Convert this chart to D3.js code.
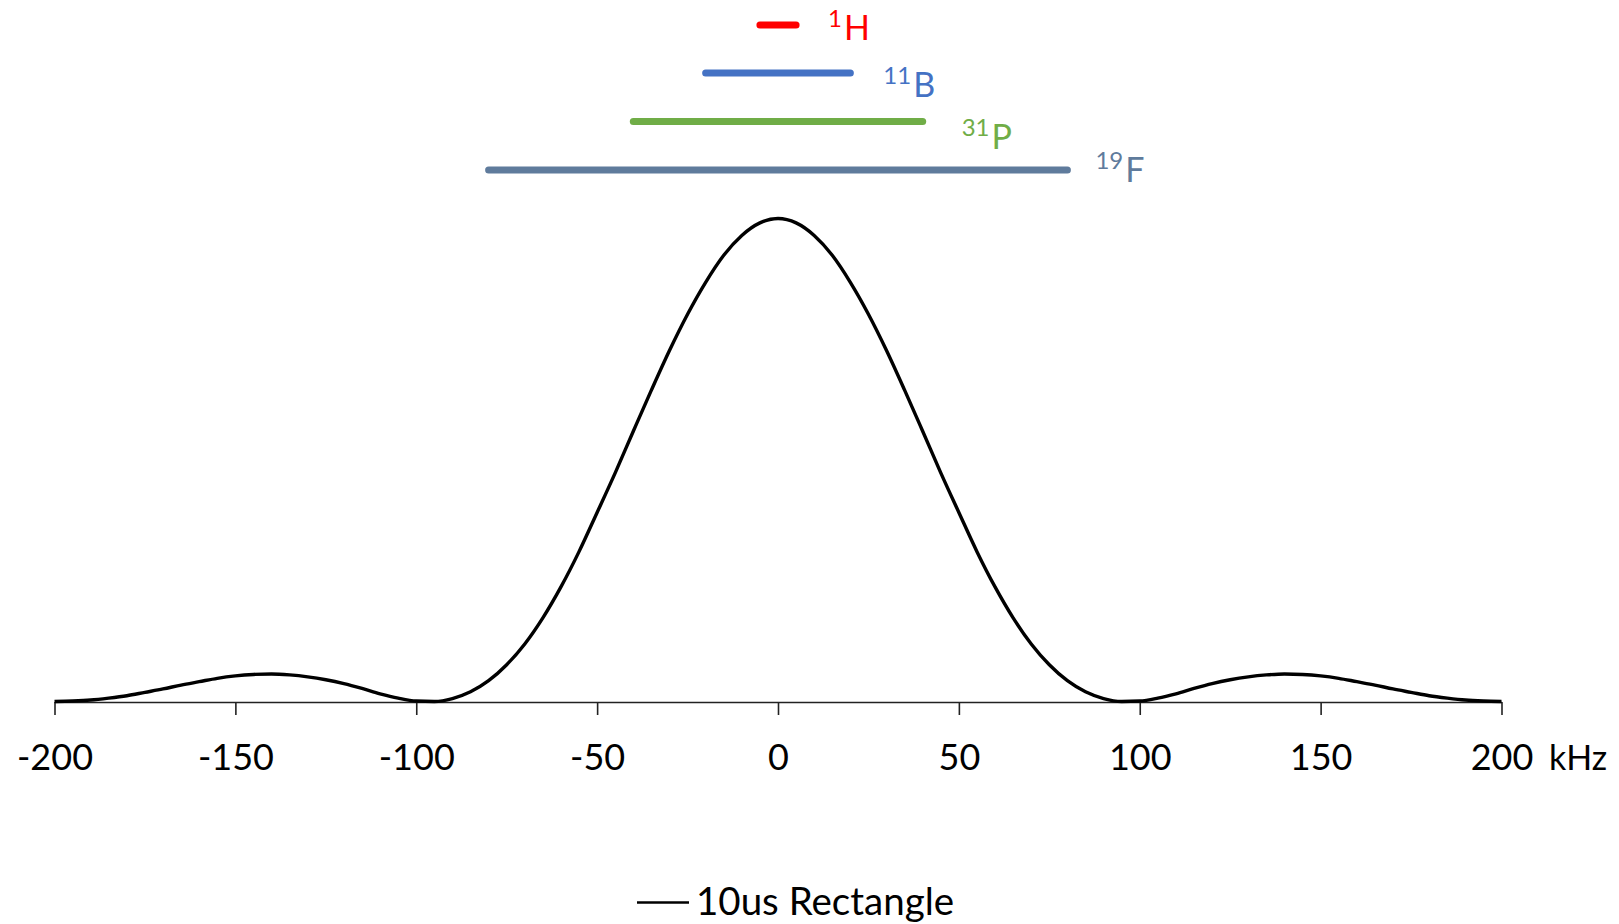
<!DOCTYPE html>
<html>
<head>
<meta charset="utf-8">
<script src="https://cdn.jsdelivr.net/npm/d3@7"></script>
<style>
  html, body { margin: 0; padding: 0; background: #fff; }
  svg { display: block; }
  text { font-family: Lato, "Open Sans", sans-serif; }
</style>
</head>
<body>
<svg id="chart" width="1619" height="924"></svg>
<script>
// ---- data ----
const freqKHz = [-200,-195,-190,-185,-180,-175,-170,-165,-160,-155,-150,-145,-140,-135,-130,-125,-120,-115,-110,-105,-100,-95,-90,-85,-80,-75,-70,-65,-60,-55,-50,-45,-40,-35,-30,-25,-20,-15,-10,-5,0,
  5,10,15,20,25,30,35,40,45,50,55,60,65,70,75,80,85,90,95,100,105,110,115,120,125,130,135,140,145,150,155,160,165,170,175,180,185,190,195,200];
// one half of the symmetric profile, from 0 kHz outwards
const half = [1.000,0.991,0.965,0.924,0.868,0.802,0.727,0.645,0.560,0.474,0.392,0.311,0.238,0.174,0.120,0.077,0.044,0.021,0.007,0.001,0.002,
  0.008,0.017,0.028,0.038,0.046,0.052,0.056,0.058,0.057,0.054,0.049,0.042,0.035,0.027,0.020,0.013,0.008,0.004,0.002,0.001];
const intensity = half.slice(1).reverse().concat(half); // 10us Rectangle excitation profile

const tickValues = [-200,-150,-100,-50,0,50,100,150,200];
const unitLabel = "kHz";
const seriesName = "10us Rectangle";

const nuclei   = ["1H", "11B", "31P", "19F"];
const massNum  = ["1", "11", "31", "19"];
const element  = ["H", "B", "P", "F"];
const bandLow  = [-5, -20, -40, -80];
const bandHigh = [5, 20, 40, 80];
const nucleusColors = ["#FF0000", "#4472C4", "#70AD47", "#5F7B9C"];

// ---- layout ----
const svg = d3.select("#chart");
const x = d3.scaleLinear().domain([-200, 200]).range([54.5, 1501.5]);
const y = d3.scaleLinear().domain([0, 1]).range([702, 218.5]);

const barY   = [25, 73, 121.5, 170];
const labDx  = [32, 33, 39, 28];
const labBase= [40, 96.5, 149, 181.5];

// axis
const axis = d3.axisBottom(x).tickValues(tickValues).tickSize(13).tickSizeOuter(0)
  .tickFormat(d3.format("d"));
const gAxis = svg.append("g").attr("transform", "translate(0,702)").call(axis);
gAxis.select(".domain").attr("stroke", "#222").attr("stroke-width", 1.6);
gAxis.selectAll(".tick line").attr("stroke", "#222").attr("stroke-width", 1.6);
gAxis.selectAll(".tick text")
  .attr("y", 68).attr("dy", 0)
  .attr("font-size", 36).attr("fill", "#000")
  .style("font-family", "Lato, 'Open Sans', sans-serif")
  .text(d => d < 0 ? "-" + Math.abs(d) : d);

svg.append("text").attr("x", 1549).attr("y", 770)
  .attr("font-size", 34).attr("fill", "#000").text(unitLabel);

// curve
const pts = freqKHz.map((f, i) => [f, intensity[i]]);
svg.append("path").datum(pts)
  .attr("fill", "none").attr("stroke", "#000").attr("stroke-width", 3.4)
  .attr("stroke-linejoin", "round")
  .attr("d", d3.line().x(d => x(d[0])).y(d => y(d[1])).curve(d3.curveMonotoneX));

// nucleus bandwidth bars
nuclei.forEach((n, i) => {
  svg.append("line")
    .attr("x1", x(bandLow[i])).attr("x2", x(bandHigh[i]))
    .attr("y1", barY[i]).attr("y2", barY[i])
    .attr("stroke", nucleusColors[i]).attr("stroke-width", 7)
    .attr("stroke-linecap", "round");
  const t = svg.append("text")
    .attr("x", x(bandHigh[i]) + labDx[i]).attr("y", labBase[i])
    .attr("fill", nucleusColors[i]).attr("font-size", 34);
  t.append("tspan").attr("font-size", 24).attr("dy", -13).text(massNum[i]);
  t.append("tspan").attr("dy", 13).attr("dx", 2).text(element[i]);
});

// legend
svg.append("line").attr("x1", 637).attr("x2", 689).attr("y1", 902.5).attr("y2", 902.5)
  .attr("stroke", "#000").attr("stroke-width", 2.5);
svg.append("text").attr("x", 696).attr("y", 915).attr("font-size", 38.5)
  .attr("fill", "#000").text(seriesName);
</script>
</body>
</html>
